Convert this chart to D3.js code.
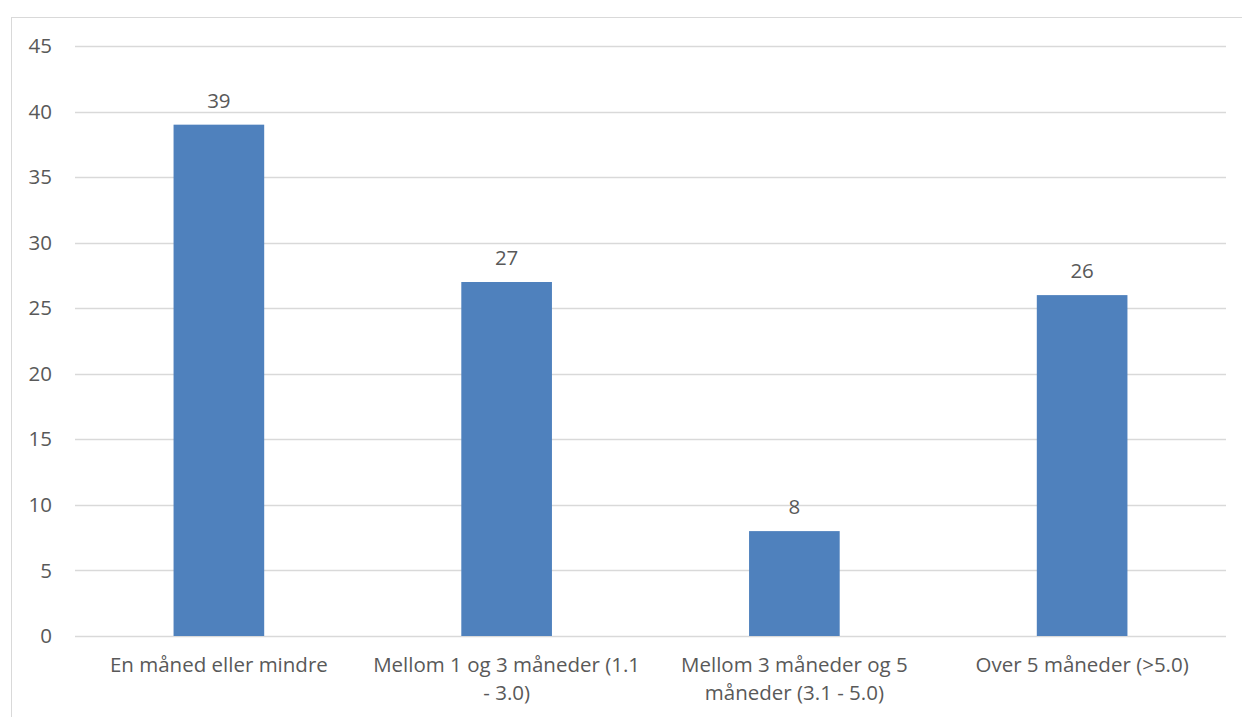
<!DOCTYPE html>
<html>
<head>
<meta charset="utf-8">
<script src="https://cdn.jsdelivr.net/npm/d3@7"></script>
<style>
  body { margin: 0; background: #fff; }
  svg text { font-family: "Open Sans", "Noto Sans", sans-serif; fill: #595959; }
</style>
</head>
<body>
<div id="chart"></div>
<script>
const categories = [
    "En måned eller mindre",
    "Mellom 1 og 3 måneder (1.1 - 3.0)",
    "Mellom 3 måneder og 5 måneder (3.1 - 5.0)",
    "Over 5 måneder (>5.0)"
];
const values = [39, 27, 8, 26];
const yTicks = [0, 5, 10, 15, 20, 25, 30, 35, 40, 45];

const W = 1242, H = 717;
const margin = { top: 46, right: 16, bottom: 81, left: 75 };
const width = W - margin.left - margin.right;
const height = H - margin.top - margin.bottom;
const fontSize = "20.5px";

const root = d3.select("#chart").append("svg")
    .attr("width", W)
    .attr("height", H);

// outer chart border (right/bottom run off the picture)
root.append("rect")
    .attr("x", 11.5)
    .attr("y", 17.5)
    .attr("width", W + 20)
    .attr("height", H + 20)
    .attr("fill", "none")
    .attr("stroke", "#d9d9d9")
    .attr("stroke-width", 1);

const svg = root.append("g")
    .attr("transform", `translate(${margin.left},${margin.top})`);

const x = d3.scaleBand().domain(categories).range([0, width]).padding(0);
const y = d3.scaleLinear().domain([0, 45]).range([height, 0]);
const barW = x.bandwidth() * 0.315;

// gridlines
svg.append("g")
    .selectAll("line")
    .data(yTicks)
    .join("line")
    .attr("x1", 0)
    .attr("x2", width)
    .attr("y1", d => Math.round(y(d)) + 0.5)
    .attr("y2", d => Math.round(y(d)) + 0.5)
    .attr("stroke", "#d9d9d9")
    .attr("stroke-width", 1.3);

// y axis labels
const yAxis = svg.append("g")
    .call(d3.axisLeft(y).tickValues(yTicks).tickSize(0).tickPadding(23));
yAxis.select(".domain").remove();
yAxis.selectAll("text")
    .style("font-size", fontSize)
    .attr("fill", "#595959");

// bars
svg.selectAll(".bar")
    .data(values)
    .join("rect")
    .attr("class", "bar")
    .attr("x", (d, i) => x(categories[i]) + (x.bandwidth() - barW) / 2)
    .attr("width", barW)
    .attr("y", d => y(d))
    .attr("height", d => height - y(d))
    .attr("fill", "#4f81bd");

// value labels
svg.selectAll(".bar-label")
    .data(values)
    .join("text")
    .attr("class", "bar-label")
    .attr("x", (d, i) => x(categories[i]) + x.bandwidth() / 2)
    .attr("y", d => y(d) - 17)
    .attr("text-anchor", "middle")
    .style("font-size", fontSize)
    .text(d => d);

// x axis labels
const xAxis = svg.append("g")
    .attr("transform", `translate(0,${height})`)
    .call(d3.axisBottom(x).tickSize(0).tickPadding(0));
xAxis.select(".domain").remove();
xAxis.selectAll("text")
    .style("font-size", fontSize)
    .attr("fill", "#595959")
    .attr("y", 36)
    .attr("dy", 0)
    .call(wrap, 276);

function wrap(text, maxW) {
    text.each(function() {
        const textSel = d3.select(this);
        const words = textSel.text().split(/\s+/);
        const yPos = textSel.attr("y");
        textSel.text(null);
        let line = [];
        let lineNo = 0;
        let tspan = textSel.append("tspan").attr("x", 0).attr("y", yPos).attr("dy", 0);
        words.forEach(w => {
            line.push(w);
            tspan.text(line.join(" "));
            if (tspan.node().getComputedTextLength() > maxW && line.length > 1) {
                line.pop();
                tspan.text(line.join(" "));
                line = [w];
                lineNo++;
                tspan = textSel.append("tspan")
                    .attr("x", 0)
                    .attr("y", yPos)
                    .attr("dy", lineNo * 28)
                    .text(w);
            }
        });
    });
}
</script>
</body>
</html>
